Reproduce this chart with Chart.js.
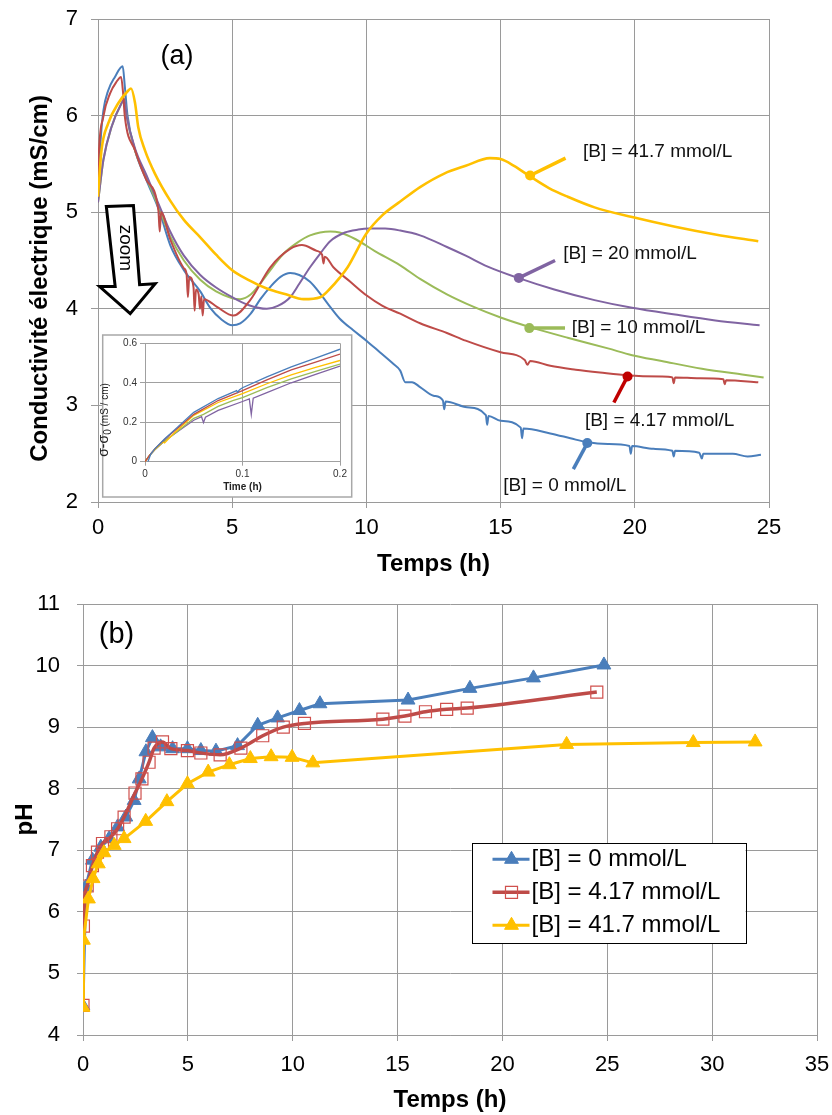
<!DOCTYPE html>
<html lang="fr">
<head>
<meta charset="utf-8">
<title>Conductivité et pH</title>
<script src="https://cdn.jsdelivr.net/npm/chart.js@4.4.1/dist/chart.umd.min.js"></script>
<style>
  html, body { margin: 0; padding: 0; background: #fff; }
  #page { position: relative; width: 832px; height: 1115px; overflow: hidden; }
  canvas { position: absolute; }
  #condChart { left: 0; top: 0; }
  #zoomChart { left: 97px; top: 333px; }
  #phChart { left: 0; top: 585px; }
</style>
</head>
<body>
<div id="page">
  <canvas id="condChart" width="832" height="585"></canvas>
  <canvas id="zoomChart" width="256" height="166"></canvas>
  <canvas id="phChart" width="832" height="530"></canvas>
</div>
<script>
const FONT = "'Liberation Sans', Arial, Helvetica, sans-serif";
const GRID = '#9a9a9a';
const BLUE = '#4A7EBB', RED = '#BE4B48', GREEN = '#9BBB59', PURPLE = '#8064A2', YELLOW = '#FFC000';

// ---- (a) conductivity, [time (h), sigma (mS/cm)]
const condB0 = [[0,5.15],[0.1,5.75],[0.2,6.05],[0.38,6.26],[0.63,6.40],[0.92,6.51],[1.0,6.3],[1.1,6.0],[1.38,5.64],[1.81,5.33],[2.3,5.0],[2.69,4.66],[3.2,4.4],[3.81,4.18],[4.18,4.01],[4.6,3.89],[5.0,3.83],[5.3,3.85],[5.69,3.95],[6.05,4.1],[6.43,4.23],[6.8,4.33],[7.16,4.37],[7.5,4.35],[7.9,4.28],[8.3,4.15],[8.65,4.02],[9.0,3.9],[9.5,3.78],[10.0,3.67],[10.5,3.55],[11.0,3.43],[11.26,3.36],[11.45,3.24],[11.7,3.24],[12.0,3.19],[12.5,3.1],[12.85,3.05],[12.9,2.96],[12.95,3.04],[13.75,2.98],[14.45,2.9],[14.5,2.8],[14.55,2.89],[15.0,2.84],[15.75,2.77],[15.8,2.66],[15.85,2.76],[16.85,2.71],[17.6,2.66],[18.2,2.62],[19.0,2.6],[19.8,2.58],[19.85,2.5],[19.9,2.58],[20.7,2.55],[21.4,2.53],[21.45,2.47],[21.5,2.53],[22.4,2.51],[22.5,2.45],[22.55,2.5],[23.65,2.5],[24.2,2.47],[24.7,2.49]];
const condB417 = [[0,5.3],[0.02,5.54],[0.2,5.99],[0.45,6.23],[0.69,6.35],[0.86,6.40],[0.93,6.25],[1.0,5.99],[1.38,5.64],[1.81,5.33],[2.25,5.02],[2.3,4.8],[2.35,5.0],[2.69,4.72],[3.2,4.42],[3.3,4.36],[3.35,4.12],[3.4,4.33],[3.56,4.22],[3.6,3.98],[3.65,4.2],[3.75,4.15],[3.8,4.0],[3.85,4.13],[3.9,3.93],[3.95,4.1],[4.43,4.02],[5.05,3.93],[5.67,4.09],[6.42,4.43],[7.16,4.62],[7.6,4.66],[8.15,4.6],[8.35,4.56],[8.4,4.47],[8.45,4.54],[8.77,4.43],[9.4,4.28],[10.0,4.14],[10.6,4.03],[11.26,3.95],[12.0,3.85],[13.0,3.75],[13.7,3.67],[15.0,3.55],[15.9,3.47],[16.0,3.42],[16.1,3.46],[16.85,3.41],[17.8,3.37],[18.7,3.34],[19.75,3.31],[21.0,3.3],[21.4,3.29],[21.45,3.23],[21.5,3.29],[22.4,3.28],[23.3,3.27],[23.35,3.22],[23.4,3.26],[24.6,3.24]];
const condB10 = [[0,5.1],[0.2,5.54],[0.5,5.88],[0.88,6.13],[0.98,6.17],[1.07,5.99],[1.38,5.64],[1.81,5.35],[2.31,5.02],[2.69,4.75],[3.2,4.5],[3.81,4.30],[4.4,4.18],[5.0,4.11],[5.3,4.10],[5.7,4.15],[6.04,4.26],[6.5,4.43],[6.91,4.57],[7.4,4.68],[7.9,4.76],[8.65,4.80],[9.0,4.79],[9.6,4.72],[10.3,4.6],[11.26,4.45],[12.0,4.31],[13.0,4.15],[14.0,4.02],[15.0,3.91],[16.1,3.81],[17.5,3.70],[19.0,3.59],[19.9,3.52],[21.0,3.46],[22.5,3.38],[24.0,3.32],[24.8,3.29]];
const condB20 = [[0,5.1],[0.2,5.54],[0.5,5.88],[0.88,6.13],[0.98,6.17],[1.07,5.99],[1.38,5.66],[1.81,5.38],[2.31,5.05],[2.69,4.8],[3.2,4.55],[3.81,4.35],[4.4,4.22],[5.0,4.12],[5.6,4.04],[6.29,4.0],[6.7,4.03],[7.16,4.12],[7.5,4.26],[7.9,4.43],[8.3,4.58],[8.65,4.70],[9.2,4.79],[9.7,4.82],[10.1,4.83],[10.7,4.83],[11.26,4.81],[12.0,4.76],[13.0,4.64],[13.7,4.55],[14.5,4.44],[15.65,4.32],[17.0,4.2],[18.5,4.09],[19.9,4.01],[21.5,3.94],[23.0,3.88],[24.65,3.83]];
const condB417b = [[0,5.16],[0.13,5.64],[0.38,5.92],[0.76,6.13],[1.13,6.26],[1.23,6.28],[1.38,6.13],[1.5,5.88],[1.75,5.64],[2.12,5.40],[2.69,5.12],[3.2,4.92],[3.81,4.74],[4.4,4.56],[5.0,4.40],[5.6,4.30],[6.29,4.21],[7.0,4.15],[7.66,4.10],[8.28,4.12],[8.65,4.21],[9.0,4.32],[9.3,4.43],[10.0,4.78],[10.6,4.97],[11.26,5.11],[12.0,5.26],[12.9,5.40],[13.7,5.48],[14.6,5.56],[15.0,5.55],[15.5,5.48],[16.1,5.37],[16.8,5.25],[17.5,5.16],[18.5,5.05],[19.9,4.95],[21.5,4.85],[23.0,4.77],[24.6,4.70]];
const condLabels = ['[B] = 0 mmol/L', '[B] = 4.17 mmol/L', '[B] = 10 mmol/L', '[B] = 20 mmol/L', '[B] = 41.7 mmol/L'];

// inset: sigma - sigma0 over the first 0.2 h
const zoomB0 = [[0.003,0],[0.006,0.04],[0.01,0.065],[0.02,0.115],[0.03,0.16],[0.05,0.25],[0.075,0.32],[0.094,0.36],[0.095,0.352],[0.097,0.365],[0.1,0.375],[0.125,0.43],[0.15,0.48],[0.175,0.525],[0.2,0.57]];
const zoomB417 = [[0,0],[0.005,0.035],[0.01,0.065],[0.02,0.112],[0.03,0.155],[0.05,0.24],[0.075,0.31],[0.1,0.36],[0.125,0.415],[0.15,0.465],[0.175,0.505],[0.2,0.545]];
const zoomB10 = [[0,0],[0.005,0.033],[0.01,0.06],[0.02,0.105],[0.03,0.14],[0.05,0.22],[0.06,0.24],[0.075,0.28],[0.09,0.31],[0.1,0.325],[0.125,0.375],[0.15,0.42],[0.175,0.458],[0.2,0.495]];
const zoomB20 = [[0,0],[0.005,0.033],[0.01,0.06],[0.02,0.105],[0.03,0.14],[0.05,0.21],[0.058,0.228],[0.06,0.198],[0.062,0.225],[0.075,0.26],[0.1,0.305],[0.107,0.318],[0.109,0.24],[0.111,0.322],[0.125,0.35],[0.15,0.4],[0.175,0.443],[0.2,0.485]];
const zoomB417b = [[0,0],[0.005,0.035],[0.01,0.062],[0.018,0.1],[0.02,0.095],[0.022,0.105],[0.03,0.145],[0.05,0.235],[0.075,0.3],[0.1,0.345],[0.125,0.395],[0.15,0.44],[0.175,0.478],[0.2,0.513]];

// ---- (b) pH, [time (h), pH]
const phB0 = [[0,4.47],[0.13,6.4],[0.45,6.84],[0.85,7.05],[1.25,7.19],[1.65,7.38],[2.04,7.54],[2.44,7.81],[2.68,8.16],[3.0,8.6],[3.31,8.83],[3.7,8.68],[4.27,8.65],[4.98,8.65],[5.62,8.62],[6.34,8.61],[7.37,8.7],[8.33,9.03],[9.28,9.15],[10.32,9.27],[11.3,9.38],[15.5,9.44],[18.45,9.63],[21.48,9.8],[24.84,10.01]];
const phB417 = [[0,4.48],[0.02,5.77],[0.2,6.42],[0.45,6.75],[0.69,6.97],[0.93,7.11],[1.33,7.22],[1.65,7.35],[1.96,7.54],[2.48,7.93],[2.81,8.16],[3.15,8.43],[3.39,8.66],[3.79,8.76],[4.19,8.65],[4.98,8.62],[5.62,8.58],[6.54,8.55],[7.53,8.66],[8.57,8.86],[9.55,9.0],[10.56,9.06],[14.3,9.13],[15.35,9.18],[16.33,9.25],[17.34,9.29],[18.32,9.31],[24.5,9.57]];
const phB417b = [[0,4.45],[0.02,5.54],[0.26,6.21],[0.48,6.54],[0.73,6.78],[1.0,6.96],[1.49,7.08],[1.96,7.19],[2.99,7.47],[4.0,7.79],[4.98,8.08],[5.97,8.27],[6.98,8.39],[7.98,8.49],[8.97,8.52],[9.97,8.51],[10.96,8.42],[23.06,8.72],[29.1,8.75],[32.05,8.76]];
const phLabels = ['[B] = 0 mmol/L', '[B] = 4.17 mmol/L', '[B] = 41.7 mmol/L'];

const toXY = arr => arr.map(p => ({ x: p[0], y: p[1] }));

function tickFont(size) { return { family: FONT, size: size }; }

// chart.js adds the tick padding to the outer margins; the plot areas here are fixed
function fixWidth(w) {
  return s => { s.width = w; s.paddingTop = 0; s.paddingBottom = 0; };
}
function fixHeight(h) {
  return s => { s.height = h; s.paddingLeft = 0; s.paddingRight = 0; };
}

// ---------- plot (a) ----------
// stub + dot pointers to each curve, in data units
const condNotes = [
  { dot: [18.23, 2.61], end: [17.71, 2.34], text: [15.1, 2.17], color: BLUE },
  { dot: [19.73, 3.30], end: [19.22, 3.03], text: [18.14, 2.84], color: '#C00000' },
  { dot: [16.07, 3.80], end: [17.4, 3.80], text: [17.65, 3.80], color: GREEN },
  { dot: [15.68, 4.32], end: [17.03, 4.50], text: [17.33, 4.57], color: PURPLE },
  { dot: [16.1, 5.38], end: [17.42, 5.56], text: [18.07, 5.63], color: YELLOW }
];
const zoomArrow = [[0.31,5.06],[1.32,5.07],[1.55,4.25],[2.13,4.26],[1.2,3.95],[0.06,4.23],[0.64,4.23]];

const condExtras = {
  id: 'condExtras',
  afterDatasetsDraw(chart) {
    const ctx = chart.ctx, xs = chart.scales.x, ys = chart.scales.y;
    const px = p => [xs.getPixelForValue(p[0]), ys.getPixelForValue(p[1])];
    ctx.save();

    // big outlined arrow with "zoom"
    ctx.beginPath();
    zoomArrow.forEach((p, i) => { const q = px(p); i ? ctx.lineTo(q[0], q[1]) : ctx.moveTo(q[0], q[1]); });
    ctx.closePath();
    ctx.fillStyle = '#fff'; ctx.fill();
    ctx.lineWidth = 3; ctx.lineJoin = 'miter'; ctx.strokeStyle = '#000'; ctx.stroke();
    const zc = px([1.0, 4.63]);
    ctx.save();
    ctx.translate(zc[0], zc[1]); ctx.rotate(Math.PI / 2);
    ctx.font = '19px ' + FONT; ctx.fillStyle = '#000';
    ctx.textAlign = 'center'; ctx.textBaseline = 'middle';
    ctx.fillText('zoom', 0, 0);
    ctx.restore();

    // curve labels
    condNotes.forEach((n, i) => {
      const d = px(n.dot), e = px(n.end), t = px(n.text);
      ctx.strokeStyle = n.color; ctx.lineWidth = 3.5; ctx.lineCap = 'butt';
      ctx.beginPath(); ctx.moveTo(d[0], d[1]); ctx.lineTo(e[0], e[1]); ctx.stroke();
      ctx.fillStyle = n.color;
      ctx.beginPath(); ctx.arc(d[0], d[1], 5, 0, Math.PI * 2); ctx.fill();
      ctx.fillStyle = '#111'; ctx.font = '19px ' + FONT;
      ctx.textAlign = 'left'; ctx.textBaseline = 'middle';
      ctx.fillText(condLabels[i], t[0], t[1]);
    });

    const a = px([2.94, 6.61]);
    ctx.font = '27px ' + FONT; ctx.fillStyle = '#000'; ctx.textAlign = 'center';
    ctx.fillText('(a)', a[0], a[1]);
    ctx.restore();
  },
  afterDraw(chart) {
    const ctx = chart.ctx, area = chart.chartArea;
    ctx.save();
    ctx.translate(area.left - 51, (area.top + area.bottom) / 2 + 18);
    ctx.rotate(-Math.PI / 2);
    ctx.font = 'bold 24px ' + FONT; ctx.fillStyle = '#000';
    ctx.textAlign = 'center'; ctx.textBaseline = 'alphabetic';
    ctx.fillText('Conductivité électrique (mS/cm)', 0, 0);
    ctx.restore();
  }
};

function condSet(arr, color, width, order) {
  return { data: toXY(arr), borderColor: color, borderWidth: width, pointRadius: 0,
           cubicInterpolationMode: 'monotone', order: order, fill: false };
}

new Chart(document.getElementById('condChart'), {
  type: 'line',
  data: {
    datasets: [
      condSet(condB0, BLUE, 2, 4),
      condSet(condB417, RED, 2, 1),
      condSet(condB10, GREEN, 2, 3),
      condSet(condB20, PURPLE, 2, 2),
      condSet(condB417b, YELLOW, 2.6, 0)
    ]
  },
  options: {
    responsive: false,
    animation: false,
    layout: { padding: { left: 0, top: 19, right: 63, bottom: 0 } },
    plugins: { legend: { display: false }, tooltip: { enabled: false } },
    scales: {
      x: {
        type: 'linear', min: 0, max: 25,
        ticks: { stepSize: 5, font: tickFont(22), color: '#000', padding: 7, maxRotation: 0 },
        grid: { color: GRID, tickLength: 6, tickColor: GRID },
        border: { color: GRID },
        title: { display: true, text: 'Temps (h)', color: '#000',
                 font: { family: FONT, size: 24, weight: 'bold' }, padding: { top: 0, bottom: 6 } },
        afterFit: fixHeight(83)
      },
      y: {
        min: 2, max: 7,
        ticks: { stepSize: 1, font: tickFont(22), color: '#000', padding: 13 },
        grid: { color: GRID, tickLength: 7, tickColor: GRID },
        border: { color: GRID },
        afterFit: fixWidth(98)
      }
    }
  },
  plugins: [condExtras]
});

// ---------- inset ----------
const insetFrame = {
  id: 'insetFrame',
  beforeDraw(chart) {
    const ctx = chart.ctx;
    ctx.save();
    ctx.fillStyle = '#fff';
    ctx.fillRect(5.7, 2, 249, 162);
    ctx.strokeStyle = '#a8a8a8'; ctx.lineWidth = 1.5;
    ctx.strokeRect(5.7, 2, 249, 162);
    ctx.restore();
  },
  afterDraw(chart) {
    const ctx = chart.ctx;
    ctx.save();
    ctx.translate(11, 87);
    ctx.rotate(-Math.PI / 2);
    ctx.fillStyle = '#222'; ctx.textBaseline = 'alphabetic'; ctx.textAlign = 'left';
    const parts = [
      { t: 'σ-σ', f: '14px ' + FONT, dy: 0 },
      { t: '0', f: '10px ' + FONT, dy: 3 },
      { t: ' (mS / cm)', f: '10px ' + FONT, dy: 0 }
    ];
    let total = 0;
    parts.forEach(p => { ctx.font = p.f; p.w = ctx.measureText(p.t).width; total += p.w; });
    let x = -total / 2;
    parts.forEach(p => { ctx.font = p.f; ctx.fillText(p.t, x, p.dy); x += p.w; });
    ctx.restore();
  }
};

function zoomSet(arr, color) {
  return { data: toXY(arr), borderColor: color, borderWidth: 1.3, pointRadius: 0, tension: 0, fill: false };
}

new Chart(document.getElementById('zoomChart'), {
  type: 'line',
  data: {
    datasets: [
      zoomSet(zoomB0, BLUE),
      zoomSet(zoomB417, RED),
      zoomSet(zoomB417b, YELLOW),
      zoomSet(zoomB10, GREEN),
      zoomSet(zoomB20, PURPLE)
    ]
  },
  options: {
    responsive: false,
    animation: false,
    layout: { padding: { left: 0, top: 10.3, right: 13, bottom: 0 } },
    plugins: { legend: { display: false }, tooltip: { enabled: false } },
    scales: {
      x: {
        type: 'linear', min: 0, max: 0.2,
        ticks: { stepSize: 0.1, font: tickFont(10), color: '#333', padding: 3, maxRotation: 0 },
        grid: { color: '#a0a0a0', tickLength: 4, tickColor: '#a0a0a0' },
        border: { color: '#a0a0a0' },
        title: { display: true, text: 'Time (h)', color: '#222',
                 font: { family: FONT, size: 10, weight: 'bold' }, padding: { top: 0, bottom: 5.7 } },
        afterFit: fixHeight(37.3)
      },
      y: {
        min: 0, max: 0.6,
        ticks: { stepSize: 0.2, font: tickFont(10), color: '#333', padding: 3 },
        grid: { color: '#a0a0a0', tickLength: 5, tickColor: '#a0a0a0' },
        border: { color: '#a0a0a0' },
        afterFit: fixWidth(48)
      }
    }
  },
  plugins: [insetFrame]
});

// ---------- plot (b) ----------
function marker(ctx, style, r, x, y) {
  ctx.beginPath();
  if (style === 'triangle') {
    ctx.moveTo(x, y - r);
    ctx.lineTo(x + r * 0.866, y + r * 0.5);
    ctx.lineTo(x - r * 0.866, y + r * 0.5);
    ctx.closePath();
  } else {
    const h = r * Math.SQRT1_2;
    ctx.rect(x - h, y - h, 2 * h, 2 * h);
  }
}

const phExtras = {
  id: 'phExtras',
  afterDraw(chart) {
    const ctx = chart.ctx, area = chart.chartArea;
    const xs = chart.scales.x, ys = chart.scales.y;
    ctx.save();
    ctx.font = '29px ' + FONT; ctx.fillStyle = '#000';
    ctx.textAlign = 'center'; ctx.textBaseline = 'middle';
    ctx.fillText('(b)', xs.getPixelForValue(1.6), ys.getPixelForValue(10.5));

    // legend box
    const x0 = area.left + 388.5, y0 = area.top + 239.3, w = 274, h = 100;
    ctx.fillStyle = '#fff'; ctx.fillRect(x0, y0, w, h);
    ctx.strokeStyle = '#000'; ctx.lineWidth = 1;
    ctx.strokeRect(Math.round(x0) + 0.5, Math.round(y0) + 0.5, w, h);
    chart.data.datasets.forEach((ds, i) => {
      const cy = y0 + 16 + i * 33;
      ctx.strokeStyle = ds.borderColor; ctx.lineWidth = ds.borderWidth;
      ctx.beginPath(); ctx.moveTo(x0 + 21, cy); ctx.lineTo(x0 + 58, cy); ctx.stroke();
      marker(ctx, ds.pointStyle, ds.pointRadius, x0 + 40, cy);
      if (ds.pointBackgroundColor !== 'transparent') { ctx.fillStyle = ds.pointBackgroundColor; ctx.fill(); }
      ctx.strokeStyle = ds.pointBorderColor; ctx.lineWidth = ds.pointBorderWidth; ctx.stroke();
      ctx.fillStyle = '#000'; ctx.font = '24px ' + FONT;
      ctx.textAlign = 'left'; ctx.textBaseline = 'middle';
      ctx.fillText(phLabels[i], x0 + 60, cy);
    });
    ctx.restore();
  }
};

new Chart(document.getElementById('phChart'), {
  type: 'line',
  data: {
    datasets: [
      { data: toXY(phB0), borderColor: BLUE, borderWidth: 3, tension: 0,
        pointStyle: 'triangle', pointRadius: 8, pointBackgroundColor: BLUE,
        pointBorderColor: BLUE, pointBorderWidth: 1, order: 2 },
      { data: toXY(phB417), borderColor: RED, borderWidth: 3.5, cubicInterpolationMode: 'monotone',
        pointStyle: 'rect', pointRadius: 8.5, pointBackgroundColor: 'transparent',
        pointBorderColor: '#D0504D', pointBorderWidth: 1.2, order: 1 },
      { data: toXY(phB417b), borderColor: YELLOW, borderWidth: 3, tension: 0,
        pointStyle: 'triangle', pointRadius: 8, pointBackgroundColor: YELLOW,
        pointBorderColor: YELLOW, pointBorderWidth: 1, order: 0 }
    ]
  },
  options: {
    responsive: false,
    animation: false,
    layout: { padding: { left: 0, top: 19, right: 15, bottom: 0 } },
    plugins: { legend: { display: false }, tooltip: { enabled: false } },
    scales: {
      x: {
        type: 'linear', min: 0, max: 35,
        ticks: { stepSize: 5, font: tickFont(22), color: '#000', padding: 10.5, maxRotation: 0 },
        grid: { color: GRID, tickLength: 6, tickColor: GRID },
        border: { color: GRID },
        title: { display: true, text: 'Temps (h)', color: '#000',
                 font: { family: FONT, size: 24, weight: 'bold' }, padding: { top: 0, bottom: 0 } },
        afterFit: fixHeight(80)
      },
      y: {
        min: 4, max: 11,
        ticks: { stepSize: 1, font: tickFont(22), color: '#000', padding: 17 },
        grid: { color: GRID, tickLength: 6, tickColor: GRID },
        border: { color: GRID },
        title: { display: true, text: 'pH', color: '#000',
                 font: { family: FONT, size: 24, weight: 'bold' }, padding: { top: 11, bottom: 0 } },
        afterFit: fixWidth(83)
      }
    }
  },
  plugins: [phExtras]
});
</script>
</body>
</html>
